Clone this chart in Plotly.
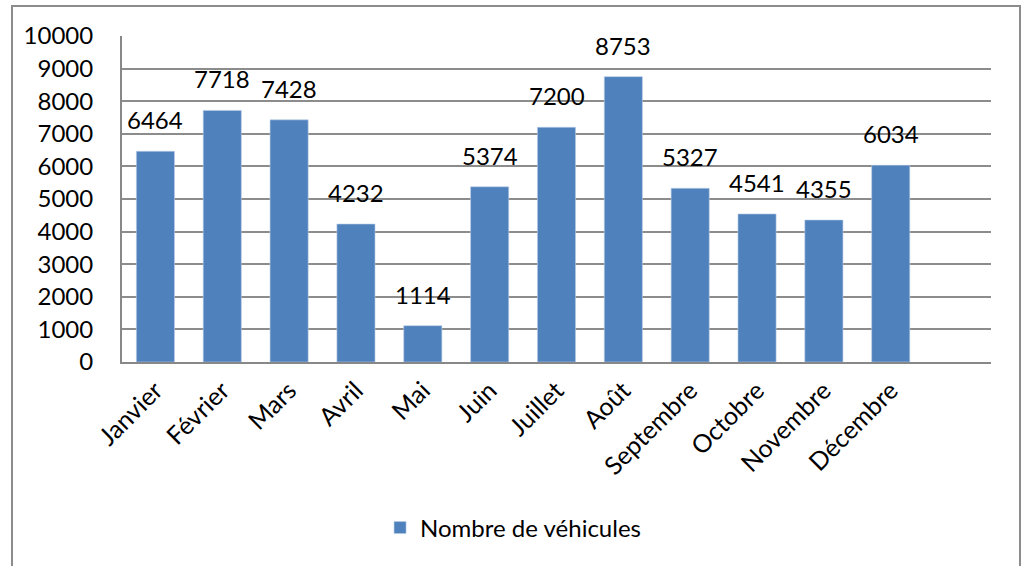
import plotly.graph_objects as go

# Monthly vehicle counts
months = ["Janvier", "Février", "Mars", "Avril", "Mai", "Juin", "Juillet",
          "Août", "Septembre", "Octobre", "Novembre", "Décembre"]
vehicules = [6464, 7718, 7428, 4232, 1114, 5374, 7200, 8753, 5327, 4541, 4355, 6034]
series_name = "Nombre de véhicules"

W, H = 1026, 566
L, R, T, B = 122, 35, 36, 204
FONT = "Lato"
PW, PH = W - L - R, H - T - B

fig = go.Figure()
fig.add_trace(go.Bar(
    x=months, y=vehicules, name=series_name,
    marker=dict(color="#4f81bd", line=dict(color="#b9cde5", width=0.6)),
    showlegend=True,
))

# data labels above bars
for m, v in zip(months, vehicules):
    fig.add_annotation(x=m, y=v, text=str(v), showarrow=False,
                       yanchor="bottom", yshift=15,
                       font=dict(family=FONT, size=24, color="#000000"))

fig.update_layout(
    width=W, height=H,
    margin=dict(l=L, r=R, t=T, b=B, autoexpand=False),
    paper_bgcolor="white", plot_bgcolor="white",
    bargap=0.43,
    font=dict(family=FONT, size=24, color="#000000"),
    xaxis=dict(
        range=[-0.5, 12.5], tickangle=-45, showgrid=False,
        showline=True, linecolor="#888888", linewidth=2,
        ticks="", ticklabelstandoff=2,
        tickfont=dict(family=FONT, size=25),
    ),
    yaxis=dict(
        range=[0, 10000], dtick=1000, tickformat="d", showgrid=True,
        gridcolor="#8c8c8c", gridwidth=1.5,
        showline=True, linecolor="#888888", linewidth=2,
        ticks="", ticklabelstandoff=22, zeroline=False,
        tickfont=dict(family=FONT, size=24),
    ),
    legend=dict(orientation="h", x=0.45, xanchor="center",
                y=(PH - (528 - T)) / PH, yanchor="middle",
                font=dict(family=FONT, size=24)),
    shapes=[dict(type="rect", xref="paper", yref="paper",
                 x0=(12 - L) / PW, x1=(1020 - L) / PW,
                 y0=(PH - (H + 20 - T)) / PH,
                 y1=(PH - (6 - T)) / PH,
                 line=dict(color="#8c8c8c", width=2), layer="below")],
)

# drop the default page margin so the figure sits at the window origin
fig.write_html("out.html", config={"displayModeBar": False},
               post_script="document.body.style.margin='0';")
